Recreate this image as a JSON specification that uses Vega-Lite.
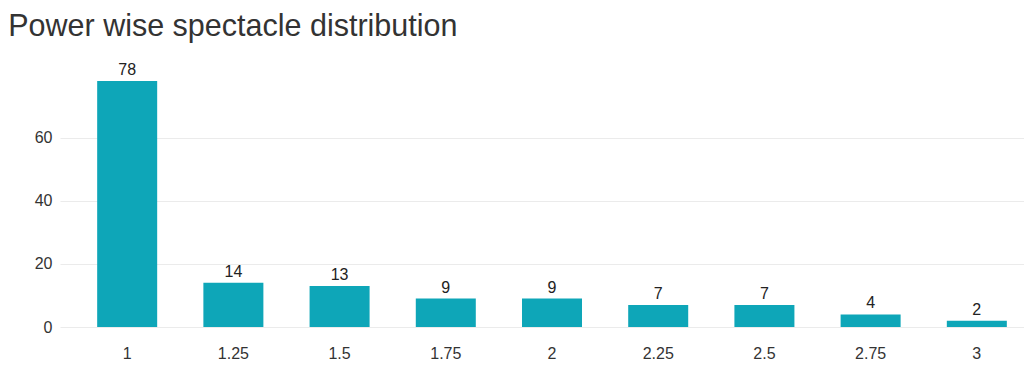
{
  "$schema": "https://vega.github.io/schema/vega-lite/v6.json",
  "autosize": "none",
  "width": 984,
  "height": 246,
  "padding": {"left": 60, "top": 81, "right": 0, "bottom": 38},
  "background": "white",
  "title": {
    "text": "Power wise spectacle distribution",
    "anchor": "start",
    "dx": -26,
    "offset": 20,
    "font": "Liberation Sans",
    "fontSize": 30.5,
    "fontWeight": "normal",
    "color": "#333333"
  },
  "data": {
    "values": [
      {"power": "1", "count": 78},
      {"power": "1.25", "count": 14},
      {"power": "1.5", "count": 13},
      {"power": "1.75", "count": 9},
      {"power": "2", "count": 9},
      {"power": "2.25", "count": 7},
      {"power": "2.5", "count": 7},
      {"power": "2.75", "count": 4},
      {"power": "3", "count": 2}
    ]
  },
  "encoding": {
    "x": {
      "field": "power",
      "type": "ordinal",
      "sort": null,
      "scale": {"paddingInner": 0.435, "paddingOuter": 0.35},
      "axis": {
        "title": null,
        "labelAngle": 0,
        "domain": false,
        "ticks": false,
        "labelPadding": 18,
        "labelFont": "Liberation Sans",
        "labelFontSize": 16,
        "labelColor": "#333333"
      }
    },
    "y": {
      "field": "count",
      "type": "quantitative",
      "scale": {"domain": [0, 78], "nice": false},
      "axis": {
        "title": null,
        "values": [0, 20, 40, 60],
        "domain": false,
        "ticks": false,
        "labelPadding": 8,
        "labelFont": "Liberation Sans",
        "labelFontSize": 16,
        "labelColor": "#333333",
        "gridColor": "#ebebeb"
      }
    }
  },
  "layer": [
    {"mark": {"type": "bar", "color": "#0ea6b8"}},
    {
      "mark": {
        "type": "text",
        "baseline": "bottom",
        "dy": -3,
        "font": "Liberation Sans",
        "fontSize": 16,
        "color": "#222222"
      },
      "encoding": {"text": {"field": "count", "type": "quantitative"}}
    }
  ],
  "config": {"view": {"stroke": null}}
}
